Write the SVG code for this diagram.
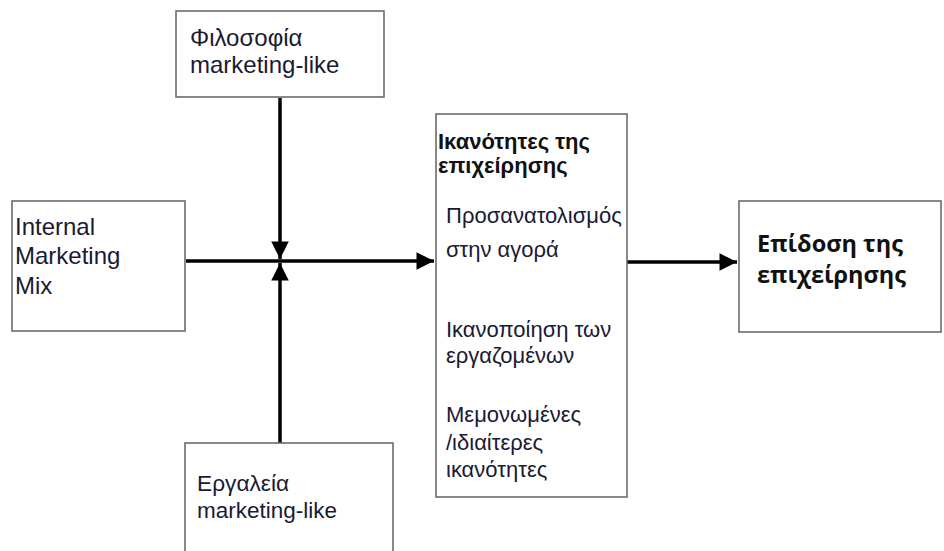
<svg xmlns="http://www.w3.org/2000/svg" width="944" height="551" viewBox="0 0 944 551">
<defs>
<style>
.box{fill:#fff;stroke:#6b6b6b;stroke-width:1.6}
.t{font-family:"Liberation Sans",Arial,sans-serif;font-size:22px;fill:#1a1a33}
.l{font-size:24px}
.b{font-family:"Liberation Sans",Arial,sans-serif;font-size:22px;font-weight:bold;fill:#111}
.bb{font-family:"Open Sans","Liberation Sans",sans-serif;font-size:23.5px;font-weight:bold;fill:#111}
.ln{stroke:#000;stroke-width:3.5;fill:none}
</style>
<marker id="ah" viewBox="0 0 10 10" refX="10" refY="5" markerWidth="5.4" markerHeight="5" orient="auto" markerUnits="strokeWidth">
<path d="M0,0 L10,5 L0,10 Z" fill="#000"/>
</marker>
</defs>
<rect width="944" height="551" fill="#fff"/>
<g id="connectors">
<line class="ln" x1="186" y1="261" x2="434" y2="261" marker-end="url(#ah)"/>
<line class="ln" x1="280" y1="98" x2="280" y2="259" marker-end="url(#ah)"/>
<line class="ln" x1="280" y1="443" x2="280" y2="263" marker-end="url(#ah)"/>
<line class="ln" x1="627" y1="262" x2="737" y2="262" marker-end="url(#ah)"/>
</g>
<g id="filosofia">
<rect class="box" x="176" y="11" width="208" height="86"/>
<text class="t l" x="190" y="46">Φιλοσοφία</text>
<text class="t l" x="190" y="73">marketing-like</text>
</g>
<g id="internal">
<rect class="box" x="12" y="201" width="173" height="130"/>
<text class="t l" x="15" y="235">Internal</text>
<text class="t l" x="15" y="264">Marketing</text>
<text class="t l" x="15" y="294">Mix</text>
</g>
<g id="ergaleia">
<rect class="box" x="185" y="443" width="208" height="120"/>
<text class="t" x="197" y="491" style="font-size:22.7px">Εργαλεία</text>
<text class="t" x="197" y="518" style="font-size:22.5px">marketing-like</text>
</g>
<g id="ikanotites">
<rect class="box" x="436" y="114" width="191" height="383"/>
<text class="b" x="438" y="149">Ικανότητες της</text>
<text class="b" x="438" y="173">επιχείρησης</text>
<text class="t" x="446" y="223">Προσανατολισμός</text>
<text class="t" x="446" y="257">στην αγορά</text>
<text class="t" x="446" y="337">Ικανοποίηση των</text>
<text class="t" x="446" y="363">εργαζομένων</text>
<text class="t" x="446" y="422">Μεμονωμένες</text>
<text class="t" x="446" y="450">/ιδιαίτερες</text>
<text class="t" x="446" y="477">ικανότητες</text>
</g>
<g id="epidosi">
<rect class="box" x="739" y="201" width="202" height="131"/>
<text class="bb" x="757" y="252">Επίδοση της</text>
<text class="bb" x="757" y="283">επιχείρησης</text>
</g>
</svg>
